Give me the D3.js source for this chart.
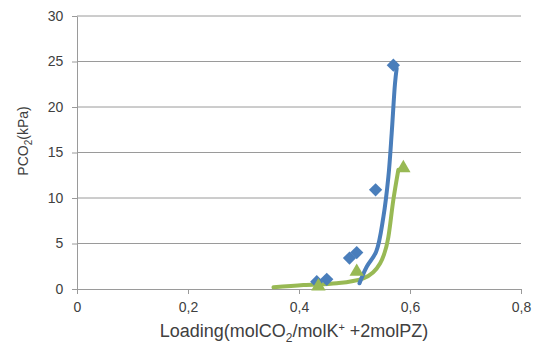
<!DOCTYPE html>
<html>
<head>
<meta charset="utf-8">
<script src="https://cdn.jsdelivr.net/npm/d3@7"></script>
<style>
  body { margin: 0; background: #fff; }
  text { font-family: "Liberation Sans", Arial, sans-serif; fill: #404040; }
</style>
</head>
<body>
<div id="chart"></div>
<script>
// measured points (diamonds / triangles) and fitted curves
var blueX = [0.432, 0.45, 0.491, 0.504, 0.538, 0.570];
var blueY = [0.8, 1.07, 3.4, 4.0, 10.9, 24.6];
var greenX = [0.435, 0.504, 0.588];
var greenY = [0.3, 1.9, 13.3];

var blueFitX = [0.509, 0.522, 0.539, 0.552, 0.561, 0.567, 0.573, 0.576];
var blueFitY = [0.63, 2.45, 4.1, 7.9, 12.3, 17.1, 22.6, 24.25];
var greenFitX = [0.354, 0.408, 0.468, 0.516, 0.546, 0.561, 0.570, 0.579];
var greenFitY = [0.19, 0.44, 0.63, 1.17, 2.8, 5.7, 9.8, 13.1];

var xTicks = [0, 0.2, 0.4, 0.6, 0.8];
var yTicks = [0, 5, 10, 15, 20, 25, 30];

var width = 536, height = 345;
var blue = "#4a7ebb", green = "#98b954";

var svg = d3.select("#chart").append("svg")
    .attr("width", width)
    .attr("height", height);

var x = d3.scaleLinear().domain([0, 0.8]).range([77, 521]);
var y = d3.scaleLinear().domain([0, 30]).range([289, 16]);

// grid
svg.append("g")
    .selectAll("line")
    .data(yTicks.slice(1))
    .enter().append("line")
    .attr("x1", x(0)).attr("x2", x(0.8))
    .attr("y1", function(d) { return y(d); })
    .attr("y2", function(d) { return y(d); })
    .attr("stroke", "#9a9a9a")
    .attr("stroke-width", 1);

var fmt = function(d) { return d === 0 ? "0" : String(d).replace(".", ","); };

var xAxis = svg.append("g")
    .attr("transform", "translate(0," + y(0) + ")")
    .call(d3.axisBottom(x).tickValues(xTicks).tickFormat(fmt).tickSize(5).tickSizeOuter(0));
var yAxis = svg.append("g")
    .attr("transform", "translate(" + x(0) + ",0)")
    .call(d3.axisLeft(y).tickValues(yTicks).tickSize(5).tickSizeOuter(0));

[xAxis, yAxis].forEach(function(a) {
  a.select(".domain").attr("stroke", "#9a9a9a");
  a.selectAll(".tick line").attr("stroke", "#9a9a9a");
  a.selectAll("text").style("font-size", "14px").attr("fill", "#404040");
});
xAxis.selectAll("text").attr("dy", "1.05em");
yAxis.selectAll("text").attr("dx", "-0.4em");

// fitted lines
var line = d3.line()
    .x(function(d) { return x(d[0]); })
    .y(function(d) { return y(d[1]); })
    .curve(d3.curveMonotoneX);

svg.append("path")
    .datum(d3.zip(greenFitX, greenFitY))
    .attr("d", line)
    .attr("fill", "none")
    .attr("stroke", green)
    .attr("stroke-width", 4)
    .attr("stroke-linecap", "round");

svg.append("path")
    .datum(d3.zip(blueFitX, blueFitY))
    .attr("d", line.curve(d3.curveCatmullRom))
    .attr("fill", "none")
    .attr("stroke", blue)
    .attr("stroke-width", 4)
    .attr("stroke-linecap", "round");

// markers
svg.append("g")
    .selectAll("path")
    .data(d3.zip(blueX, blueY))
    .enter().append("path")
    .attr("d", d3.symbol().type(d3.symbolSquare).size(88))
    .attr("transform", function(d) { return "translate(" + x(d[0]) + "," + y(d[1]) + ") rotate(45)"; })
    .attr("fill", blue);

svg.append("g")
    .selectAll("path")
    .data(d3.zip(greenX, greenY))
    .enter().append("path")
    .attr("d", d3.symbol().type(d3.symbolTriangle).size(90))
    .attr("transform", function(d) { return "translate(" + x(d[0]) + "," + y(d[1]) + ")"; })
    .attr("fill", green);

// axis titles
svg.append("text")
    .attr("x", 294).attr("y", 337)
    .attr("text-anchor", "middle")
    .style("font-size", "18px")
    .html('Loading(molCO<tspan dy="5" font-size="12">2</tspan><tspan dy="-5">/molK</tspan><tspan dy="-6" font-size="11">+</tspan><tspan dy="6"> +2molPZ)</tspan>');

svg.append("text")
    .attr("transform", "translate(28,141) rotate(-90)")
    .attr("text-anchor", "middle")
    .style("font-size", "14px")
    .html('PCO<tspan dy="4" font-size="10">2</tspan><tspan dy="-4">(kPa)</tspan>');
</script>
</body>
</html>
